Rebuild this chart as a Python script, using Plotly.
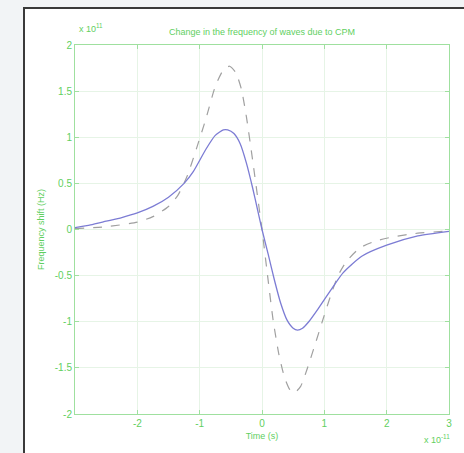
import plotly.graph_objects as go

# Time in units of 1e-11 s, frequency shift in units of 1e11 Hz
t_solid = [-3.0, -2.75, -2.5, -2.25, -2.0, -1.75, -1.5, -1.25, -1.1, -0.9, -0.75, -0.62, -0.55, -0.45,
           -0.35, -0.25, -0.15, -0.07, 0.0, 0.1, 0.2, 0.3, 0.4, 0.5, 0.57, 0.65, 0.75, 0.9, 1.1,
           1.3, 1.6, 2.0, 2.5, 3.0]
v_solid = [0.02, 0.05, 0.09, 0.13, 0.18, 0.25, 0.35, 0.50, 0.63, 0.87, 1.02, 1.08, 1.08, 1.04,
           0.93, 0.72, 0.45, 0.21, 0.0, -0.27, -0.55, -0.80, -0.98, -1.07, -1.09, -1.07, -1.00, -0.86, -0.66,
           -0.47, -0.29, -0.17, -0.07, -0.02]

t_dash = [-3.0, -2.5, -2.0, -1.75, -1.5, -1.35, -1.2, -1.05, -0.9, -0.75, -0.62, -0.52, -0.42, -0.33,
          -0.25, -0.15, -0.07, 0.0, 0.075, 0.18, 0.27, 0.36, 0.45, 0.52, 0.62, 0.72, 0.85, 0.98, 1.1,
          1.22, 1.35, 1.57, 1.8, 2.1, 2.5, 2.9, 3.0]
v_dash = [0.01, 0.03, 0.08, 0.14, 0.25, 0.37, 0.58, 0.88, 1.20, 1.55, 1.73, 1.77, 1.70, 1.52,
          1.22, 0.75, 0.35, 0.0, -0.42, -0.99, -1.35, -1.60, -1.74, -1.77, -1.70, -1.52, -1.25, -0.97, -0.72,
          -0.50, -0.35, -0.20, -0.13, -0.08, -0.04, -0.02, -0.015]

x_ticks = [-3, -2, -1, 0, 1, 2, 3]
x_ticktext = ["", "-2", "-1", "0", "1", "2", "3"]
y_ticks = [-2, -1.5, -1, -0.5, 0, 0.5, 1, 1.5, 2]
y_ticktext = ["-2", "-1.5", "-1", "-0.5", "0", "0.5", "1", "1.5", "2"]

GREEN = "#5fcf5f"
AXIS = "#9fe09f"
GRID = "#e6f4e6"
FONT = "Liberation Sans Narrow, Liberation Sans, Arial, sans-serif"

fig = go.Figure()
fig.add_trace(go.Scatter(x=t_dash, y=v_dash, mode="lines",
                         line=dict(color="#a0a0a0", width=1.2, dash="dash", shape="spline", smoothing=0.6),
                         showlegend=False))
fig.add_trace(go.Scatter(x=t_solid, y=v_solid, mode="lines",
                         line=dict(color="#7c7cd4", width=1.3, shape="spline", smoothing=0.6),
                         showlegend=False))

W, H = 464, 453
L, R, T, B = 75, 15, 45, 39
pw, ph = W - L - R, H - T - B

def px(x):
    return (x - L) / pw

def py(y):
    return (H - B - y) / ph

fig.update_layout(
    width=W, height=H,
    margin=dict(l=L, r=R, t=T, b=B),
    paper_bgcolor="#f2f4f6",
    plot_bgcolor="white",
    font=dict(family=FONT, size=9, color=GREEN),
    title=dict(text="Change in the frequency of waves due to CPM", xref="paper", x=0.5, xanchor="center",
               yref="container", y=1 - 32 / H, yanchor="middle", font=dict(size=9, color=GREEN, family=FONT)),
    shapes=[
        dict(type="rect", xref="paper", yref="paper", x0=px(24), x1=px(520), y0=py(8), y1=py(520),
             fillcolor="white", line=dict(color="#3a3a3a", width=2), layer="below"),
    ],
    annotations=[
        dict(text="x 10<sup>11</sup>", xref="paper", yref="paper", x=px(77), y=py(36), xanchor="left",
             yanchor="bottom", showarrow=False, font=dict(size=9, color=GREEN, family=FONT)),
        dict(text="x 10<sup>-11</sup>", xref="paper", yref="paper", x=px(452), y=py(447), xanchor="right",
             yanchor="bottom", showarrow=False, font=dict(size=9, color=GREEN, family=FONT)),
    ],
)
fig.update_xaxes(range=[-3, 3], tickvals=x_ticks, ticktext=x_ticktext, showgrid=True, gridcolor=GRID, gridwidth=1,
                 zeroline=False, showline=True, linecolor=AXIS, linewidth=1, mirror="allticks",
                 ticks="inside", ticklen=4, tickcolor=AXIS, tickfont=dict(size=10, color=GREEN),
                 title=dict(text="Time (s)", font=dict(size=9, color=GREEN), standoff=4))
fig.update_yaxes(range=[-2, 2], tickvals=y_ticks, ticktext=y_ticktext, showgrid=True, gridcolor=GRID, gridwidth=1,
                 zeroline=False, showline=True, linecolor=AXIS, linewidth=1, mirror="allticks",
                 ticks="inside", ticklen=4, tickcolor=AXIS, tickfont=dict(size=10, color=GREEN),
                 title=dict(text="Frequency shift (Hz)", font=dict(size=9, color=GREEN), standoff=8))

fig.write_html("out.html")
